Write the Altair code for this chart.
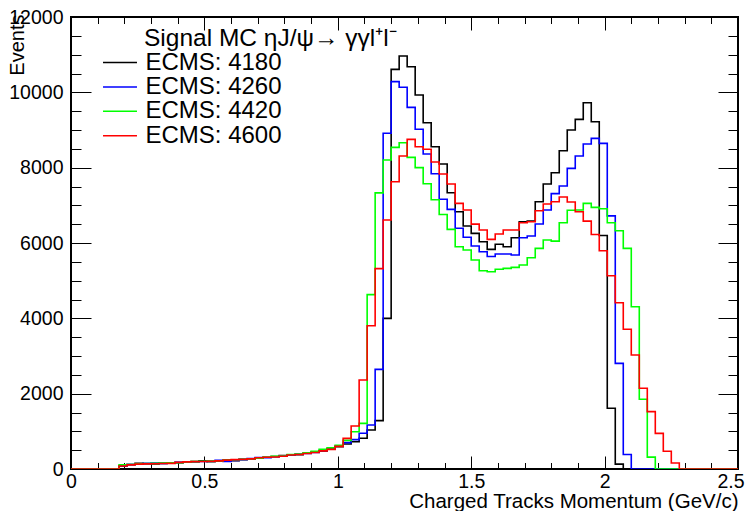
import altair as alt
import pandas as pd

FONT = "Liberation Sans"
W, H = 667, 452

BIN_WIDTH = 0.03
N_BINS = 84
SERIES = ["ECMS: 4180", "ECMS: 4260", "ECMS: 4420", "ECMS: 4600"]
COLORS = ["#000000", "#0000ff", "#00ff00", "#ff0000"]
LEGEND_TITLE = "Signal MC \u03b7J/\u03c8\u2192 \u03b3\u03b3l\u207al\u207b"
X_TITLE = "Charged Tracks Momentum (GeV/c)"
Y_TITLE = "Events"
X_LABELS = [0, 0.5, 1, 1.5, 2, 2.5]
X_TICKS = [0, 0.1, 0.2, 0.3, 0.4, 0.5, 0.6, 0.7, 0.8, 0.9, 1.0, 1.1, 1.2, 1.3,
           1.4, 1.5, 1.6, 1.7, 1.8, 1.9, 2.0, 2.1, 2.2, 2.3, 2.4, 2.5]
Y_LABELS = [0, 2000, 4000, 6000, 8000, 10000, 12000]
Y_TICKS = [0, 500, 1000, 1500, 2000, 2500, 3000, 3500, 4000, 4500, 5000, 5500,
           6000, 6500, 7000, 7500, 8000, 8500, 9000, 9500, 10000, 10500, 11000,
           11500, 12000]

E4180 = [0, 0, 0, 0, 0, 0,
         80, 120, 150, 140, 135, 150, 160, 170, 180, 200, 215, 195, 205, 240,
         220, 250, 270, 290, 310, 330, 360, 375, 380, 420, 450, 480, 540, 592,
         663, 725, 815, 1035, 1283, 4000, 10610, 10964, 10680, 9928, 9193, 8556,
         8097, 7335, 6831, 6450, 6256, 6035, 5832, 5965, 5902, 6140, 6565, 6583,
         7096, 7566, 7866, 8450, 9000, 9283, 9725, 9221, 6200, 1611, 130,
         0, 0, 0, 0, 0, 0, 0, 0, 0, 0, 0, 0, 0, 0, 0]
E4260 = [0, 0, 0, 0, 0, 0,
         85, 115, 135, 150, 160, 150, 155, 175, 185, 185, 200, 210, 230, 200,
         230, 255, 275, 305, 300, 325, 350, 370, 400, 410, 440, 490, 530, 610,
         700, 780, 950, 1168, 2646, 8912, 10283, 10133, 9602, 9018, 8362, 7840,
         7160, 6894, 6390, 6151, 5920, 5769, 5640, 5707, 5707, 5681, 6140, 6185,
         6504, 6876, 7310, 7513, 7982, 8309, 8627, 8778, 8646, 6720, 2805, 385,
         0, 0, 0, 0, 0, 0, 0, 0, 0, 0, 0, 0, 0, 0]
E4420 = [0, 0, 0, 0, 0, 0,
         110, 120, 140, 145, 150, 155, 165, 165, 190, 195, 205, 210, 215, 235,
         245, 260, 270, 290, 310, 340, 345, 385, 395, 430, 470, 520, 560, 630,
         760, 990, 1212, 4630, 7330, 8203, 8539, 8663, 8274, 8000, 7575, 7150,
         6755, 6363, 5902, 5814, 5548, 5265, 5238, 5305, 5327, 5354, 5415, 5610,
         5858, 6079, 6050, 6539, 6870, 6876, 7053, 6947, 6910, 6539, 6327, 5858,
         4309, 1850, 315,
         0, 0, 0, 0, 0, 0, 0, 0, 0, 0, 0]
E4600 = [0, 0, 0, 0, 0, 0,
         80, 110, 130, 135, 140, 145, 150, 175, 190, 195, 200, 205, 215, 235,
         250, 260, 270, 300, 310, 320, 340, 370, 385, 410, 440, 480, 520, 600,
         814, 1141, 2363, 3805, 5320, 6610, 7628, 8310, 8752, 8556, 8487, 8150,
         7831, 7566, 7053, 6876, 6500, 6344, 6097, 6238, 6344, 6344, 6539, 6566,
         6858, 7035, 7096, 7220, 7090, 6831, 6580, 6225, 5795, 5130, 4415, 3709,
         3026, 2142, 1522, 947, 470, 160,
         0, 0, 0, 0, 0, 0, 0, 0]

VALUES = [E4180, E4260, E4420, E4600]
for v in VALUES:
    assert len(v) == N_BINS, len(v)

rows = []
for name, vals in zip(SERIES, VALUES):
    for k, val in enumerate(vals):
        rows.append({"series": name, "x": k * BIN_WIDTH, "y": val})
    rows.append({"series": name, "x": N_BINS * BIN_WIDTH, "y": vals[-1]})
df = pd.DataFrame(rows)

xs = alt.Scale(domain=[0, 2.5], nice=False, zero=False)
ys = alt.Scale(domain=[0, 12000], nice=False, zero=False)

x_tick_size = {"condition": {"test": "abs(datum.value*2 - round(datum.value*2)) < 0.001", "value": 13}, "value": 6.5}
y_tick_size = {"condition": {"test": "datum.value % 2000 == 0", "value": 20}, "value": 10}
last_align = {"condition": {"test": "datum.value == 2.5", "value": "right"}, "value": "center"}
last_offset = {"condition": {"test": "datum.value == 2.5", "value": 6}, "value": 0}

main = alt.Chart(df).mark_line(interpolate="step-after", strokeWidth=1.6, clip=True).encode(
    x=alt.X("x:Q", scale=xs, axis=alt.Axis(
        orient="bottom", values=X_LABELS, format="~g", ticks=False, tickSize=0,
        domain=False, grid=False, labelFont=FONT, labelFontSize=19.5, labelColor="black",
        labelPadding=3, labelFlush=False, labelAlign=last_align, labelOffset=last_offset,
        title=X_TITLE, titleFont=FONT, titleFontSize=20.5,
        titleFontWeight="normal", titleColor="black", titleAnchor="end", titleAlign="right",
        titleBaseline="alphabetic", titleX=W, titleY=38)),
    y=alt.Y("y:Q", scale=ys, axis=alt.Axis(
        orient="left", values=Y_LABELS, format="d", ticks=False, tickSize=0,
        domain=False, grid=False, labelFont=FONT, labelFontSize=19.5, labelColor="black",
        labelPadding=8, labelFlush=False, title=Y_TITLE, titleFont=FONT, titleFontSize=20,
        titleFontWeight="normal", titleColor="black", titleAngle=-90, titleAlign="right",
        titleBaseline="bottom", titleX=-44, titleY=-3)),
    color=alt.Color("series:N", scale=alt.Scale(domain=SERIES, range=COLORS),
                    legend=alt.Legend(
                        orient="none", legendX=37, legendY=33.5, title=None,
                        symbolType="M-1.51,0H1.51", symbolSize=506, symbolStrokeWidth=1.5,
                        labelFont=FONT, labelFontSize=24, labelColor="black",
                        labelOffset=13.5, rowPadding=0.4, padding=0, labelLimit=300)),
)

ticks_a = alt.Chart(df).mark_line(strokeOpacity=0).encode(
    x=alt.X("x:Q", scale=xs, axis=alt.Axis(
        orient="top", offset=-H, values=X_TICKS, labels=False, domain=False, grid=False,
        title=None, tickColor="black", tickWidth=1, tickSize=x_tick_size)),
    y=alt.Y("y:Q", scale=ys, axis=alt.Axis(
        orient="right", offset=-W, values=Y_TICKS, labels=False, domain=False, grid=False,
        title=None, tickColor="black", tickWidth=1, tickSize=y_tick_size)),
)

ticks_b = alt.Chart(df).mark_line(strokeOpacity=0).encode(
    x=alt.X("x:Q", scale=xs, axis=alt.Axis(
        orient="bottom", offset=-H, values=X_TICKS, labels=False, domain=False, grid=False,
        title=None, tickColor="black", tickWidth=1, tickSize=x_tick_size)),
    y=alt.Y("y:Q", scale=ys, axis=alt.Axis(
        orient="left", offset=-W, values=Y_TICKS, labels=False, domain=False, grid=False,
        title=None, tickColor="black", tickWidth=1, tickSize=y_tick_size)),
)

title_text = alt.Chart(pd.DataFrame({"t": [LEGEND_TITLE]})).mark_text(
    align="left", baseline="alphabetic", font=FONT, fontSize=24.5, color="black"
).encode(x=alt.value(73), y=alt.value(29), text="t:N")

chart = alt.layer(main, ticks_a, ticks_b, title_text).resolve_axis(
    x="independent", y="independent"
).properties(
    width=W, height=H,
    autosize=alt.AutoSizeParams(type="none"),
    padding={"left": 63, "top": 9, "right": 7, "bottom": 42},
    background="white",
).configure_view(stroke="black", strokeWidth=2)

chart.save("out.html", embed_options={"renderer": "svg", "actions": False})
